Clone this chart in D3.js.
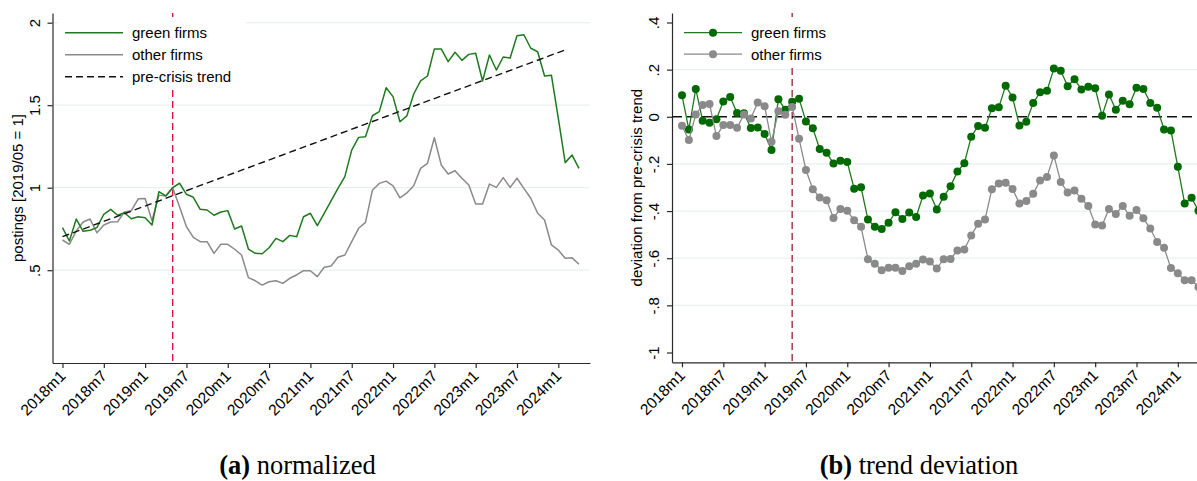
<!DOCTYPE html>
<html><head><meta charset="utf-8">
<script src="https://cdn.jsdelivr.net/npm/d3@7/dist/d3.min.js"></script>
<style>
body{margin:0;background:#fff}
svg{display:block}
text{font-family:"Liberation Sans",Arial,Helvetica,sans-serif}
</style>
</head><body>
<svg id="chart" width="1197" height="481"></svg>
<script>
// ---------- DATA ----------
const startYear = 2018;
const nMonths = 76; // 2018m1 .. 2024m4
const months = d3.range(nMonths).map(i => `${startYear + Math.floor(i / 12)}m${(i % 12) + 1}`);
const tickLabels = ["2018m1","2018m7","2019m1","2019m7","2020m1","2020m7","2021m1","2021m7","2022m1","2022m7","2023m1","2023m7","2024m1"];
const crisisMonth = "2019m5";

// (a) normalized postings
const greenNorm = [0.758,0.677,0.810,0.736,0.742,0.758,0.839,0.869,0.833,0.848,
  0.812,0.824,0.818,0.774,0.976,0.950,1.000,1.027,0.960,0.942,
  0.869,0.865,0.833,0.853,0.861,0.750,0.768,0.628,0.602,0.600,
  0.636,0.693,0.673,0.711,0.703,0.824,0.845,0.770,0.845,0.920,
  0.996,1.067,1.228,1.305,1.309,1.436,1.461,1.606,1.552,1.400,
  1.435,1.568,1.648,1.677,1.841,1.841,1.764,1.821,1.772,1.808,
  1.815,1.647,1.804,1.713,1.792,1.786,1.921,1.927,1.845,1.824,
  1.677,1.681,1.420,1.152,1.198,1.117];
const greyNorm = [0.683,0.657,0.738,0.792,0.810,0.727,0.774,0.792,0.794,0.853,
  0.861,0.933,0.935,0.800,0.955,0.950,1.000,0.885,0.764,0.699,
  0.673,0.673,0.602,0.657,0.657,0.627,0.592,0.455,0.436,0.410,
  0.430,0.436,0.420,0.451,0.471,0.497,0.497,0.461,0.518,0.525,
  0.578,0.592,0.673,0.754,0.790,0.984,1.026,1.040,1.011,0.939,
  0.968,1.012,1.117,1.148,1.303,1.138,1.083,1.103,1.057,1.016,
  0.901,0.901,1.022,1.002,1.061,1.002,1.057,0.996,0.936,0.845,
  0.804,0.653,0.622,0.572,0.575,0.536];
const trendMonths = ["2018m1","2024m2"];
const trendValues = [0.703, 1.835];

// (b) deviation from pre-crisis trend
const greenDev = [0.091,-0.054,0.118,-0.017,-0.025,-0.010,0.065,0.084,0.016,0.015,
  -0.048,-0.045,-0.073,-0.141,0.074,0.030,0.064,0.077,-0.020,-0.049,
  -0.137,-0.153,-0.198,-0.187,-0.192,-0.305,-0.299,-0.436,-0.467,-0.476,
  -0.450,-0.405,-0.434,-0.406,-0.425,-0.334,-0.325,-0.393,-0.339,-0.295,
  -0.232,-0.197,-0.085,-0.039,-0.047,0.036,0.040,0.132,0.082,-0.037,
  -0.021,0.058,0.104,0.110,0.205,0.195,0.130,0.159,0.116,0.127,
  0.121,0.004,0.095,0.030,0.068,0.053,0.123,0.118,0.059,0.038,
  -0.054,-0.058,-0.212,-0.368,-0.344,-0.399];
const greyDev = [-0.038,-0.099,0.010,0.050,0.054,-0.082,-0.035,-0.035,-0.047,0.010,
  -0.007,0.061,0.045,-0.106,0.024,0.009,0.042,-0.093,-0.226,-0.307,
  -0.342,-0.354,-0.429,-0.391,-0.399,-0.439,-0.467,-0.604,-0.623,-0.651,
  -0.640,-0.640,-0.654,-0.634,-0.623,-0.606,-0.614,-0.644,-0.604,-0.603,
  -0.567,-0.563,-0.504,-0.454,-0.436,-0.307,-0.283,-0.280,-0.306,-0.368,
  -0.357,-0.327,-0.270,-0.255,-0.164,-0.277,-0.321,-0.313,-0.348,-0.379,
  -0.457,-0.461,-0.391,-0.412,-0.378,-0.420,-0.395,-0.431,-0.474,-0.531,
  -0.556,-0.642,-0.664,-0.693,-0.693,-0.722];

const leftTicks = [0.5, 1, 1.5, 2];
const leftTickLabels = [".5", "1", "1.5", "2"];
const leftGrid = [0.5, 1, 1.5, 2];
const rightTicks = [0.4, 0.2, 0, -0.2, -0.4, -0.6, -0.8, -1];
const rightTickLabels = [".4", ".2", "0", "-.2", "-.4", "-.6", "-.8", "-1"];
const rightGrid = [0.2, -0.2, -0.4, -0.6, -0.8];

const seriesNames = ["green firms", "other firms", "pre-crisis trend"];
const captions = [["(a)", " normalized"], ["(b)", " trend deviation"]];

// ---------- STYLE ----------
const C = {
  greenLine: "#1f7a1f", greenDot: "#006a00", grey: "#8a8a8a",
  redL: "#e0143c", redR: "#a3303f", grid: "#e8f0f2", axis: "#2a2a2a"
};

const svg = d3.select("#chart");
const idx = m => months.indexOf(m);

function panel(opt) {
  const g = svg.append("g");
  const x = d3.scaleLinear().domain([-1.45, 76.6]).range([opt.x0, opt.x0 + 537.5]);
  const y = d3.scaleLinear().domain(opt.yDomain).range([opt.yBottom, 13]);

  // gridlines
  g.append("g").selectAll("line").data(opt.grid).join("line")
    .attr("x1", opt.x0).attr("x2", opt.x0 + 537.5)
    .attr("y1", d => y(d)).attr("y2", d => y(d))
    .attr("stroke", C.grid).attr("stroke-width", 1.2);

  // axes
  const xa = g.append("g").attr("transform", `translate(0,${opt.yBottom})`)
    .call(d3.axisBottom(x).tickValues(tickLabels.map(idx)).tickFormat(i => months[i]).tickSize(5).tickSizeOuter(0));
  xa.select(".domain").attr("stroke", C.axis).attr("stroke-width", 1.2);
  xa.selectAll(".tick line").attr("stroke", C.axis).attr("stroke-width", 1.2);
  xa.selectAll(".tick text").attr("x", 0).attr("y", 0).attr("dy", 0)
    .attr("transform", "translate(3.5,14) rotate(-45)")
    .style("text-anchor", "end").style("font-size", "15.5px").attr("fill", "#000")
    .style("font-family", "'Liberation Sans',Arial,sans-serif");

  const ya = g.append("g").attr("transform", `translate(${opt.x0},0)`)
    .call(d3.axisLeft(y).tickValues(opt.ticks).tickFormat((d, i) => opt.tickLabels[i]).tickSize(5).tickSizeOuter(0));
  ya.select(".domain").attr("stroke", C.axis).attr("stroke-width", 1.2);
  ya.selectAll(".tick line").attr("stroke", C.axis).attr("stroke-width", 1.2);
  ya.selectAll(".tick text").attr("x", 0).attr("y", 0).attr("dy", 0)
    .attr("transform", "translate(-13,0) rotate(-90)")
    .style("text-anchor", "middle").style("font-size", "15px").attr("fill", "#000")
    .style("font-family", "'Liberation Sans',Arial,sans-serif");

  // y title
  g.append("text").attr("transform", `translate(${opt.titleX},${(13 + opt.yBottom) / 2}) rotate(-90)`)
    .attr("text-anchor", "middle").style("font-size", "15px").text(opt.title);

  // crisis line
  g.append("line").attr("x1", x(idx(crisisMonth))).attr("x2", x(idx(crisisMonth)))
    .attr("y1", 13).attr("y2", opt.yBottom)
    .attr("stroke", opt.red).attr("stroke-width", 1.4).attr("stroke-dasharray", "7,4");

  return {g, x, y};
}

// ---------- PANEL A ----------
const A = panel({x0: 52.5, yDomain: [-0.0624, 2.0588], yBottom: 363, grid: leftGrid,
  ticks: leftTicks, tickLabels: leftTickLabels, title: "postings [2019/05 = 1]", titleX: 23, red: C.redL});

const lineA = d3.line().x((d, i) => A.x(i)).y(d => A.y(d));
A.g.append("path").datum(greyNorm).attr("d", lineA).attr("fill", "none")
  .attr("stroke", C.grey).attr("stroke-width", 1.5).attr("stroke-linejoin", "round");
A.g.append("path").datum(greenNorm).attr("d", lineA).attr("fill", "none")
  .attr("stroke", C.greenLine).attr("stroke-width", 1.5).attr("stroke-linejoin", "round");
A.g.append("path").datum(trendMonths.map((m, i) => [idx(m), trendValues[i]]))
  .attr("d", d3.line().x(d => A.x(d[0])).y(d => A.y(d[1])))
  .attr("fill", "none").attr("stroke", "#111").attr("stroke-width", 1.4).attr("stroke-dasharray", "7,4");

// legend A
const legA = A.g.append("g");
legA.append("rect").attr("x", 58).attr("y", 17).attr("width", 188).attr("height", 72).attr("fill", "#fff");
const legAStyles = [
  {stroke: C.greenLine, dash: null}, {stroke: C.grey, dash: null}, {stroke: "#111", dash: "7,4"}];
seriesNames.forEach((n, i) => {
  const yy = 32.7 + i * 22;
  legA.append("line").attr("x1", 65).attr("x2", 123).attr("y1", yy).attr("y2", yy)
    .attr("stroke", legAStyles[i].stroke).attr("stroke-width", 1.5)
    .attr("stroke-dasharray", legAStyles[i].dash);
  legA.append("text").attr("x", 132).attr("y", yy + 5.5).style("font-size", "15px").text(n);
});

// ---------- PANEL B ----------
const B = panel({x0: 672, yDomain: [-1.0416, 0.4403], yBottom: 362.3, grid: rightGrid,
  ticks: rightTicks, tickLabels: rightTickLabels, title: "deviation from pre-crisis trend", titleX: 642, red: C.redR});

B.g.append("line").attr("x1", 672).attr("x2", 1209.5).attr("y1", B.y(0)).attr("y2", B.y(0))
  .attr("stroke", "#111").attr("stroke-width", 1.4).attr("stroke-dasharray", "10,5");

const lineB = d3.line().x((d, i) => B.x(i)).y(d => B.y(d));
[[greenDev, C.greenLine, C.greenDot], [greyDev, C.grey, C.grey]].forEach(([data, lc, mc]) => {
  B.g.append("path").datum(data).attr("d", lineB).attr("fill", "none")
    .attr("stroke", lc).attr("stroke-width", 1.3);
  B.g.append("g").selectAll("circle").data(data).join("circle")
    .attr("cx", (d, i) => B.x(i)).attr("cy", d => B.y(d)).attr("r", 4).attr("fill", mc);
});

// legend B
const legB = B.g.append("g");
legB.append("rect").attr("x", 678).attr("y", 17).attr("width", 160).attr("height", 48).attr("fill", "#fff");
[[C.greenLine, C.greenDot], [C.grey, C.grey]].forEach(([lc, mc], i) => {
  const yy = 32.7 + i * 21.5;
  legB.append("line").attr("x1", 684).attr("x2", 742).attr("y1", yy).attr("y2", yy)
    .attr("stroke", lc).attr("stroke-width", 1.3);
  legB.append("circle").attr("cx", 713).attr("cy", yy).attr("r", 4).attr("fill", mc);
  legB.append("text").attr("x", 751).attr("y", yy + 5.5).style("font-size", "15px").text(seriesNames[i]);
});

// ---------- CAPTIONS ----------
[297.5, 919].forEach((cx, i) => {
  const t = svg.append("text").attr("x", cx).attr("y", 474).attr("text-anchor", "middle")
    .style("font-family", "'Liberation Serif','Times New Roman',serif").style("font-size", "26.5px");
  t.append("tspan").style("font-weight", "bold").text(captions[i][0]);
  t.append("tspan").text(captions[i][1]);
});
</script>
</body></html>
